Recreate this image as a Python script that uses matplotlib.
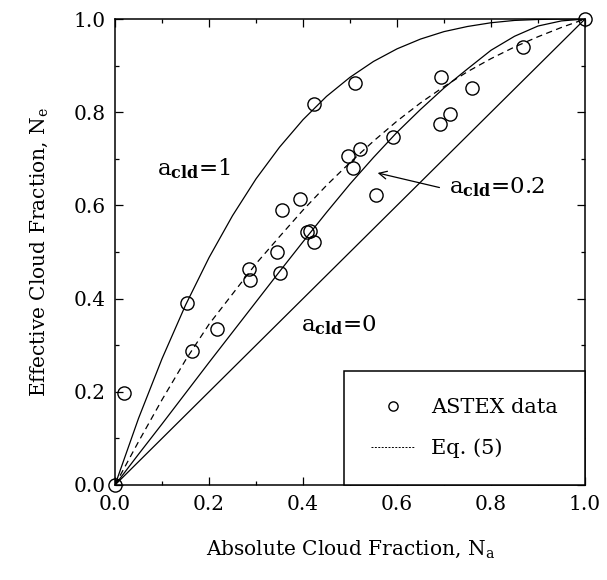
import numpy as np
import matplotlib
matplotlib.use('Agg')
import matplotlib.pyplot as plt
from matplotlib.ticker import MultipleLocator, FormatStrFormatter

plt.rcParams['font.family'] = 'DejaVu Serif'
plt.rcParams['mathtext.fontset'] = 'dejavuserif'

# ── Data ──────────────────────────────────────────────────────────────────────
na_data = [0.0, 0.019, 0.153, 0.164, 0.217, 0.285, 0.287, 0.345, 0.351,
           0.355, 0.394, 0.409, 0.414, 0.423, 0.424, 0.496, 0.506, 0.511,
           0.521, 0.555, 0.591, 0.691, 0.694, 0.713, 0.760, 0.868, 1.0]
ne_data = [0.0, 0.197, 0.390, 0.287, 0.334, 0.463, 0.439, 0.501, 0.456,
           0.591, 0.614, 0.542, 0.545, 0.522, 0.818, 0.707, 0.681, 0.863,
           0.722, 0.623, 0.747, 0.775, 0.876, 0.797, 0.852, 0.940, 1.0]

na_curve = [0.0, 0.05, 0.10, 0.15, 0.20, 0.25, 0.30, 0.35, 0.40, 0.45, 0.50,
            0.55, 0.60, 0.65, 0.70, 0.75, 0.80, 0.85, 0.90, 0.95, 1.0]
ne_a1 = [0.0, 0.143, 0.271, 0.386, 0.488, 0.578, 0.657, 0.725, 0.784, 0.834,
         0.875, 0.909, 0.936, 0.957, 0.973, 0.984, 0.992, 0.997, 0.999, 1.0, 1.0]
ne_a02 = [0.0, 0.066, 0.131, 0.197, 0.263, 0.328, 0.393, 0.458, 0.522, 0.585,
          0.646, 0.703, 0.757, 0.806, 0.852, 0.893, 0.933, 0.963, 0.985, 0.996, 1.0]
ne_a0 = na_curve
ne_eq5 = [0.0, 0.093, 0.183, 0.268, 0.345, 0.410, 0.475, 0.533, 0.590, 0.643,
          0.692, 0.738, 0.781, 0.820, 0.855, 0.887, 0.915, 0.940, 0.962, 0.982, 1.0]

# ── Figure ────────────────────────────────────────────────────────────────────
fig = plt.figure(figsize=(6.07, 5.8), dpi=100)
ax = fig.add_axes([0.1895, 0.1638, 0.7743, 0.8034])

lw = 0.9
ax.plot(na_curve, ne_a1, color='black', lw=lw)
ax.plot(na_curve, ne_a02, color='black', lw=lw)
ax.plot(na_curve, ne_a0, color='black', lw=lw)
eq5, = ax.plot(na_curve, ne_eq5, color='black', lw=lw, ls=(0, (5, 3.5)),
               label='Eq. (5)')
pts, = ax.plot(na_data, ne_data, 'o', ms=9.5, mfc='none', mec='black', mew=1.0,
               clip_on=False, zorder=5, label='ASTEX data')

ax.text(0.09, 0.665, r'a$_{\bf cld}$=1', fontsize=16.5, va='baseline')
ax.text(0.71, 0.625, r'a$_{\bf cld}$=0.2', fontsize=16.5, va='baseline')
ax.text(0.395, 0.33, r'a$_{\bf cld}$=0', fontsize=16.5, va='baseline')
ax.annotate('', xy=(0.553, 0.671), xytext=(0.696, 0.637),
            arrowprops=dict(arrowstyle='->', color='black', lw=0.9,
                            mutation_scale=14))

ax.set_xlim(0, 1)
ax.set_ylim(0, 1)
ax.xaxis.set_major_locator(MultipleLocator(0.2))
ax.yaxis.set_major_locator(MultipleLocator(0.2))
ax.xaxis.set_minor_locator(MultipleLocator(0.1))
ax.yaxis.set_minor_locator(MultipleLocator(0.1))
ax.xaxis.set_major_formatter(FormatStrFormatter('%.1f'))
ax.yaxis.set_major_formatter(FormatStrFormatter('%.1f'))
ax.tick_params(which='both', direction='in', top=True, right=True,
               labelsize=14.5, width=0.9)
ax.tick_params(which='major', length=6, pad=7)
ax.tick_params(which='minor', length=3)
for sp in ax.spines.values():
    sp.set_linewidth(1.1)

ax.set_xlabel(r'Absolute Cloud Fraction, N$_{\rm a}$', fontsize=14.5, labelpad=18)
ax.set_ylabel(r'Effective Cloud Fraction, N$_{\rm e}$', fontsize=14.5, labelpad=17)

leg = ax.legend(handles=[pts, eq5], loc='lower right', bbox_to_anchor=(1, 0),
                borderaxespad=0, fontsize=15, fancybox=False, frameon=True,
                edgecolor='black', framealpha=1, handlelength=2.1,
                handletextpad=0.8, labelspacing=1.0, borderpad=1.3,
                markerscale=0.7)
leg.get_frame().set_linewidth(1.1)
leg.legend_handles[1].set_linewidth(0.7)
leg.legend_handles[1].set_linestyle((0, (2, 1.5)))

fig.savefig('out.png', dpi=100, facecolor='white')
